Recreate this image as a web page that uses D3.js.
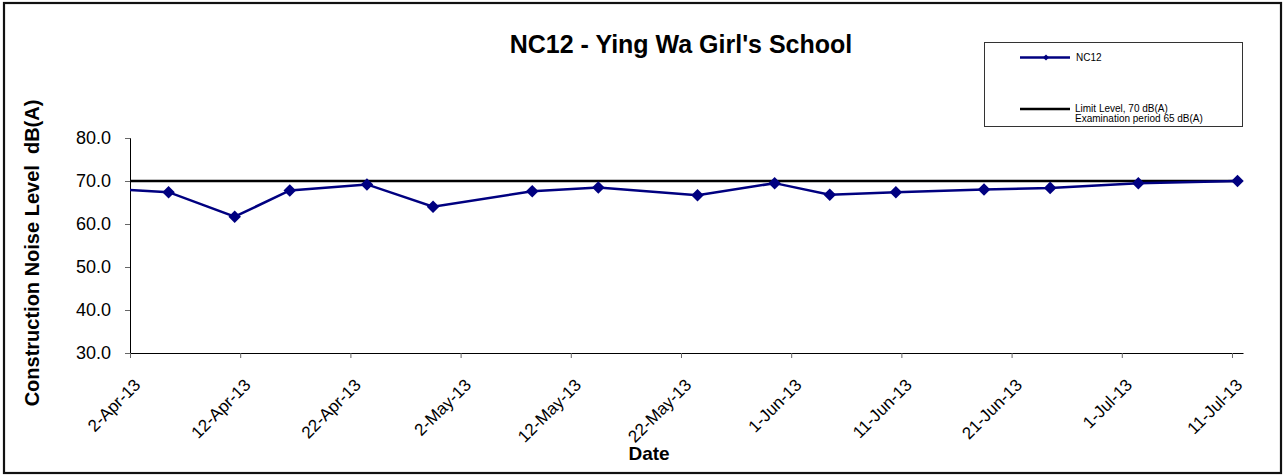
<!DOCTYPE html>
<html>
<head>
<meta charset="utf-8">
<script src="https://cdn.jsdelivr.net/npm/d3@7"></script>
<style>
  html, body { margin: 0; padding: 0; background: #fff; }
  svg { display: block; font-family: "Liberation Sans", Arial, sans-serif; }
</style>
</head>
<body>
<svg id="chart" width="1284" height="476"></svg>
<script>
// ---- data ----
const dates = ["31-Mar-13", "5-Apr-13", "11-Apr-13", "16-Apr-13", "23-Apr-13", "29-Apr-13", "8-May-13", "14-May-13",
               "23-May-13", "30-May-13", "4-Jun-13", "10-Jun-13", "18-Jun-13", "24-Jun-13", "2-Jul-13", "11-Jul-13"];
const nc12 = [68.1, 67.4, 61.7, 67.8, 69.2, 64.0, 67.6, 68.5, 66.7, 69.5, 66.8, 67.4, 68.0, 68.4, 69.5, 70.0];
const limitDates = ["31-Mar-13", "11-Jul-13"];
const limitValues = [70, 70];
const tickLabels = ["2-Apr-13", "12-Apr-13", "22-Apr-13", "2-May-13", "12-May-13", "22-May-13",
                    "1-Jun-13", "11-Jun-13", "21-Jun-13", "1-Jul-13", "11-Jul-13"];
const yTicks = [30, 40, 50, 60, 70, 80];
const xDomain = ["2-Apr-13", "12-Jul-13"];
const yDomain = [30, 80];

const title = "NC12 - Ying Wa Girl's School";
const yTitle = "Construction Noise Level  dB(A)";
const xTitle = "Date";
const seriesName = "NC12";
const limitName = ["Limit Level, 70 dB(A)", "Examination period 65 dB(A)"];

// ---- chart ----
const parse = d3.utcParse("%d-%b-%y");
const fmt = d3.utcFormat("%-d-%b-%y");
const mid = d => d3.utcHour.offset(parse(d), 12);

const svg = d3.select("#chart");
const plot = {left: 130, right: 1243, top: 138, bottom: 353};

const x = d3.scaleUtc().domain(xDomain.map(parse)).range([plot.left, plot.right]);
const y = d3.scaleLinear().domain(yDomain).range([plot.bottom, plot.top]);

// outer border
svg.append("rect").attr("x", 4).attr("y", 3).attr("width", 1277).attr("height", 470)
  .attr("fill", "#fff").attr("stroke", "#111").attr("stroke-width", 2.2);

// title
svg.append("text").attr("x", 681).attr("y", 53).attr("text-anchor", "middle")
  .attr("font-size", 25).attr("font-weight", "bold").attr("fill", "#000").text(title);

// y axis
const yAxis = svg.append("g").attr("transform", `translate(${plot.left},0)`)
  .call(d3.axisLeft(y).tickValues(yTicks).tickFormat(d3.format(".1f")).tickSize(5).tickPadding(14));
yAxis.select(".domain").attr("stroke", "#000");
yAxis.selectAll(".tick line").attr("stroke", "#666");
yAxis.selectAll(".tick text").attr("font-size", 18).attr("fill", "#000")
  .attr("font-family", '"Liberation Sans", Arial, sans-serif');

// x axis
const xAxis = svg.append("g").attr("transform", `translate(0,${plot.bottom})`)
  .call(d3.axisBottom(x).tickValues(tickLabels.map(parse)).tickFormat(fmt).tickSize(5).tickSizeOuter(0));
xAxis.select(".domain").attr("stroke", "#000");
xAxis.selectAll(".tick line").attr("stroke", "#666");
xAxis.selectAll(".tick text")
  .attr("font-size", 17).attr("fill", "#000")
  .attr("font-family", '"Liberation Sans", Arial, sans-serif')
  .attr("text-anchor", "end")
  .attr("dy", null).attr("y", null)
  .attr("transform", "translate(11,33) rotate(-45)");

// axis titles
svg.append("text")
  .attr("transform", `translate(39,${(95 + 411) / 2}) rotate(-90)`)
  .attr("text-anchor", "middle").attr("font-size", 20).attr("font-weight", "bold")
  .style("white-space", "pre").attr("fill", "#000").text(yTitle);
svg.append("text").attr("x", 649).attr("y", 460).attr("text-anchor", "middle")
  .attr("font-size", 19).attr("font-weight", "bold").attr("fill", "#000").text(xTitle);

// clip
svg.append("clipPath").attr("id", "clip").append("rect")
  .attr("x", plot.left).attr("y", plot.top - 10).attr("width", plot.right - plot.left + 10)
  .attr("height", plot.bottom - plot.top + 20);

const g = svg.append("g").attr("clip-path", "url(#clip)");

// limit line
const limitData = limitDates.map((d, i) => ({d: mid(d), v: limitValues[i]}));
g.append("path").datum(limitData)
  .attr("d", d3.line().x(p => x(p.d)).y(p => y(p.v)))
  .attr("fill", "none").attr("stroke", "#000").attr("stroke-width", 2.5);

// series
svg.append("clipPath").attr("id", "clipL").append("rect")
  .attr("x", plot.left).attr("y", 0).attr("width", 1284 - plot.left).attr("height", 476);
const gl = svg.append("g").attr("clip-path", "url(#clipL)");
const data = dates.map((d, i) => ({d: mid(d), v: nc12[i]}));
gl.append("path").datum(data)
  .attr("d", d3.line().x(p => x(p.d)).y(p => y(p.v)))
  .attr("fill", "none").attr("stroke", "#000080").attr("stroke-width", 2.5);

const diamond = d3.symbol().type(d3.symbolDiamond2).size(100);
gl.selectAll(".pt").data(data.filter(p => p.d >= parse(xDomain[0]))).join("path")
  .attr("class", "pt")
  .attr("transform", p => `translate(${x(p.d)},${y(p.v)})`)
  .attr("d", diamond)
  .attr("fill", "#000080");

// legend
const lg = svg.append("g");
lg.append("rect").attr("x", 984.5).attr("y", 42.5).attr("width", 258).attr("height", 84)
  .attr("fill", "#fff").attr("stroke", "#333").attr("stroke-width", 1);
lg.append("line").attr("x1", 1020).attr("x2", 1070).attr("y1", 57.5).attr("y2", 57.5)
  .attr("stroke", "#000080").attr("stroke-width", 2.5);
lg.append("path").attr("transform", "translate(1046,57.5)")
  .attr("d", d3.symbol().type(d3.symbolDiamond2).size(24)).attr("fill", "#000080");
lg.append("text").attr("x", 1076).attr("y", 61).attr("font-size", 10).attr("fill", "#000").text(seriesName);
lg.append("line").attr("x1", 1020).attr("x2", 1070).attr("y1", 109).attr("y2", 109)
  .attr("stroke", "#000").attr("stroke-width", 2.5);
lg.selectAll(".lt").data(limitName).join("text").attr("class", "lt")
  .attr("x", 1075).attr("y", (d, i) => 112 + i * 10).attr("font-size", 10).attr("fill", "#000")
  .style("white-space", "pre").text(d => d);
</script>
</body>
</html>
